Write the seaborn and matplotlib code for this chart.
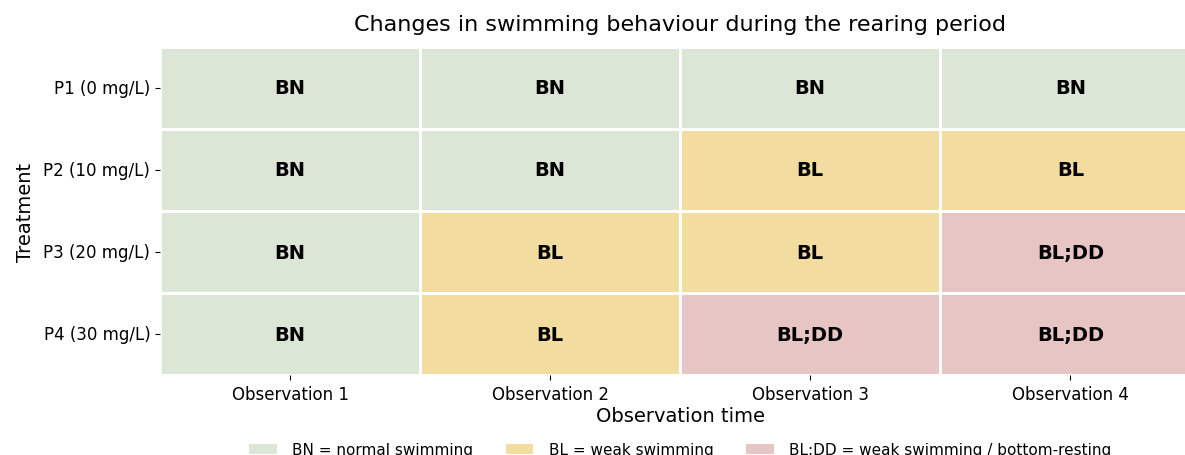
import numpy as np
import pandas as pd
import matplotlib
matplotlib.use('Agg')
import matplotlib.pyplot as plt
import seaborn as sns
from matplotlib.colors import ListedColormap
from matplotlib.patches import Patch

# Data
treatments = ['P1 (0 mg/L)', 'P2 (10 mg/L)', 'P3 (20 mg/L)', 'P4 (30 mg/L)']
observations = ['Observation 1', 'Observation 2', 'Observation 3', 'Observation 4']
obs_p1 = ['BN', 'BN', 'BN', 'BN']
obs_p2 = ['BN', 'BN', 'BL', 'BL']
obs_p3 = ['BN', 'BL', 'BL', 'BL;DD']
obs_p4 = ['BN', 'BL', 'BL;DD', 'BL;DD']
categories = ['BN', 'BL', 'BL;DD']
legend_labels = ['BN = normal swimming', 'BL = weak swimming', 'BL;DD = weak swimming / bottom-resting']
colors = ['#dce6d6', '#f2dca0', '#e8c5c5']

labels = pd.DataFrame([obs_p1, obs_p2, obs_p3, obs_p4], index=treatments, columns=observations)
codes = labels.apply(lambda col: col.map({c: i for i, c in enumerate(categories)}))

fig, ax = plt.subplots(figsize=(11.85, 4.56), dpi=100)
sns.heatmap(codes, cmap=ListedColormap(colors), vmin=-0.5, vmax=2.5, cbar=False,
            annot=labels.values, fmt='', annot_kws={'fontsize': 14, 'fontweight': 'bold', 'color': 'black'},
            linewidths=2, linecolor='white', ax=ax)

ax.set_title('Changes in swimming behaviour during the rearing period', fontsize=16, pad=12)
ax.set_xlabel('Observation time', fontsize=14, labelpad=2)
ax.set_ylabel('Treatment', fontsize=14, labelpad=6)
ax.tick_params(axis='both', labelsize=12)
plt.setp(ax.get_yticklabels(), rotation=0)
plt.setp(ax.get_xticklabels(), rotation=0)

handles = [Patch(facecolor=c, edgecolor='none') for c in colors]
fig.legend(handles, legend_labels, loc='lower center', ncol=3, frameon=False,
           fontsize=11, bbox_to_anchor=(0.574, -0.035), columnspacing=2.15,
           handlelength=1.8, handletextpad=1.0)

plt.subplots_adjust(left=0.135, right=1.013, top=0.895, bottom=0.175)
plt.savefig('out.png', dpi=100)
